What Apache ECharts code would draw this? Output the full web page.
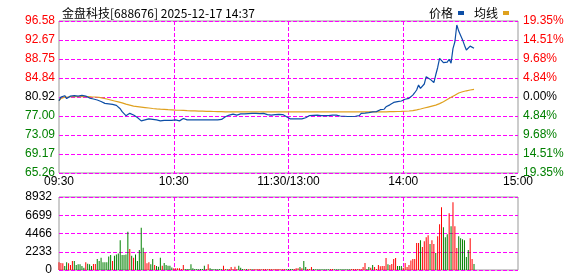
<!DOCTYPE html>
<html>
<head>
<meta charset="utf-8">
<script src="https://cdn.jsdelivr.net/npm/echarts@6/dist/echarts.min.js"></script>
<style>html,body{margin:0;padding:0;background:#fff;}#c{width:578px;height:276px;}</style>
</head>
<body>
<div id="c"></div>
<script>
// ---- data ----
const titleText = '金盘科技[688676] 2025-12-17 14:37';
const tickIdx = [0, 60, 120, 180, 240];
const tickText = ['09:30', '10:30', '11:30/13:00', '14:00', '15:00'];
const priceLabels = ['65.26', '69.17', '73.09', '77.00', '80.92', '84.84', '88.75', '92.67', '96.58'];
const pctLabels = ['19.35%', '14.51%', '9.68%', '4.84%', '0.00%', '4.84%', '9.68%', '14.51%', '19.35%'];
const volLabels = ['0', '2233', '4466', '6699', '8932'];
const priceMin = 65.26, priceMax = 96.58;
const volMax = 8932, volStep = 2233;

const price = [
80.16,80.90,81.19,81.19,80.60,80.90,81.10,81.33,81.20,80.98,
81.10,81.20,81.25,81.30,81.10,80.90,80.70,80.50,80.50,80.40,
80.30,80.20,80.00,79.80,79.60,79.60,79.50,79.50,79.40,79.40,
79.20,78.90,78.50,77.90,77.50,77.07,77.30,77.55,77.30,77.20,
77.00,76.70,76.40,76.00,75.80,76.20,76.40,76.40,76.30,76.30,
76.30,76.20,76.10,76.00,76.00,76.10,76.00,76.10,76.10,76.10,
76.10,76.20,76.10,76.00,76.20,76.50,76.40,76.20,76.20,76.20,
76.20,76.20,76.15,76.20,76.20,76.20,76.15,76.20,76.20,76.20,
76.20,76.20,76.20,76.20,76.25,76.30,76.60,76.86,77.00,77.20,
77.30,77.40,77.35,77.20,77.30,77.45,77.55,77.45,77.40,77.50,
77.55,77.55,77.60,77.55,77.55,77.50,77.55,77.55,77.40,77.30,
77.20,77.20,77.25,77.30,77.30,77.35,77.40,77.30,77.10,76.86,
76.60,76.40,76.40,76.40,76.35,76.40,76.40,76.40,76.45,76.65,
76.90,77.10,77.20,77.15,77.15,77.20,77.15,77.10,77.07,77.10,
77.10,77.10,77.15,77.20,77.20,77.20,77.10,77.00,77.00,76.95,
76.90,76.90,76.86,76.90,76.90,76.95,77.00,77.10,77.55,77.60,
77.60,77.65,77.70,77.80,77.85,77.90,77.90,78.10,78.30,78.60,
78.40,78.90,79.10,79.30,79.50,79.80,79.95,79.95,80.00,80.10,
80.30,80.45,80.50,80.65,80.90,81.30,81.80,82.36,83.40,82.70,
83.10,83.60,85.10,84.70,84.60,84.60,83.90,85.50,87.00,88.90,
88.50,88.00,87.99,88.10,88.70,87.90,90.90,92.30,95.76,94.50,
93.60,92.70,91.60,90.60,91.00,91.40,91.30,90.95
];

const avgPrice = [
80.16,80.60,80.80,80.90,80.90,80.92,80.95,80.98,81.00,81.00,
81.00,81.00,81.00,81.00,81.00,81.00,80.98,80.95,80.95,80.92,
80.90,80.85,80.80,80.70,80.60,80.50,80.40,80.30,80.20,80.10,
80.00,79.90,79.80,79.70,79.60,79.45,79.35,79.25,79.15,79.05,
79.00,78.95,78.90,78.85,78.80,78.75,78.70,78.65,78.60,78.55,
78.50,78.48,78.45,78.42,78.40,78.38,78.35,78.32,78.30,78.28,
78.25,78.23,78.21,78.19,78.17,78.15,78.13,78.11,78.10,78.08,
78.07,78.05,78.04,78.02,78.01,78.00,77.98,77.97,77.96,77.95,
77.94,77.93,77.92,77.91,77.90,77.89,77.88,77.87,77.86,77.86,
77.86,77.86,77.86,77.85,77.85,77.85,77.85,77.85,77.85,77.85,
77.85,77.85,77.85,77.85,77.85,77.85,77.85,77.85,77.85,77.85,
77.85,77.85,77.85,77.85,77.85,77.85,77.85,77.85,77.85,77.85,
77.85,77.85,77.85,77.85,77.85,77.85,77.85,77.85,77.85,77.85,
77.85,77.85,77.85,77.85,77.85,77.85,77.85,77.85,77.85,77.85,
77.85,77.85,77.85,77.85,77.85,77.85,77.85,77.85,77.85,77.85,
77.85,77.85,77.85,77.85,77.85,77.85,77.85,77.85,77.85,77.85,
77.85,77.85,77.85,77.85,77.85,77.85,77.85,77.85,77.85,77.85,
77.86,77.87,77.88,77.89,77.90,77.91,77.92,77.93,77.94,77.95,
77.96,77.98,78.00,78.03,78.06,78.10,78.18,78.26,78.35,78.45,
78.55,78.65,78.75,78.85,78.95,79.05,79.15,79.25,79.40,79.55,
79.75,79.95,80.15,80.40,80.65,80.85,81.05,81.30,81.50,81.75,
81.90,82.00,82.10,82.20,82.28,82.36,82.43,82.50
];

const volume = [
934,853,812,487,934,812,609,1096,1096,609,
690,690,500,284,934,771,690,487,731,731,
1340,1096,1502,934,934,934,1665,1827,1096,1746,
1908,2030,3654,1827,1827,1900,4669,2558,1746,1502,
1908,1096,2436,5156,2720,2111,812,934,690,1340,
609,487,406,1502,528,853,609,528,528,300,
203,203,203,203,122,609,122,122,122,690,
203,122,122,100,122,122,528,122,690,203,
122,100,122,100,122,100,528,122,100,122,
365,122,406,122,528,284,122,100,122,100,
122,100,122,100,122,122,100,122,122,100,
122,122,100,122,122,122,100,122,122,100,
122,122,122,122,203,203,365,203,1096,365,
122,122,365,122,100,100,100,100,100,100,
100,100,122,122,100,100,100,100,100,100,
100,100,100,122,122,122,122,122,122,365,
853,122,365,284,609,365,122,609,447,487,
487,1462,690,609,731,1340,1462,487,487,487,
284,853,365,609,1177,1340,1340,3289,3289,3654,
2801,3532,4019,4263,3167,3654,3167,2071,4141,5603,
7673,5237,4019,4385,6943,5359,8282,5359,2680,4141,
3898,3776,3654,1583,2436,3898,1340,731
];
// 1 = up (red), 0 = down (green)
const volUp = [
1,1,1,0,0,1,1,1,0,0,
0,0,0,0,1,0,0,0,1,1,
0,0,0,0,0,0,0,0,1,0,
0,0,0,0,0,0,0,1,0,1,
0,0,0,0,0,1,1,1,0,0,
1,0,0,0,1,0,0,0,0,0,
1,1,1,1,1,1,0,0,0,0,
0,0,0,0,0,0,0,1,1,0,
0,0,0,0,0,0,1,1,0,1,
1,1,1,1,0,0,0,1,0,1,
1,0,1,1,1,1,1,1,1,1,
1,1,1,1,1,1,1,1,1,0,
0,0,0,1,1,1,0,1,0,0,
1,1,1,0,0,0,0,0,0,0,
0,0,1,1,0,0,0,0,0,0,
0,0,0,1,1,1,1,1,1,1,
1,0,0,1,0,1,1,1,1,1,
1,1,0,1,1,1,1,0,0,0,
1,1,1,1,1,1,1,1,1,0,
1,1,1,1,0,1,1,0,1,1,
1,0,0,0,1,0,1,1,1,0,
0,0,0,0,0,1,1,0
];

// ---- categories (trading minutes) ----
const times = [];
function pad(n){return (n<10?'0':'')+n;}
for (let m = 9*60+30; m <= 11*60+30; m++) times.push(pad(Math.floor(m/60))+':'+pad(m%60));
for (let m = 13*60+1; m <= 15*60; m++) times.push(pad(Math.floor(m/60))+':'+pad(m%60));

const RED = '#ff0000', GREEN = '#008000', BLACK = '#000000';
const FONT = 'Liberation Sans';
const SPLIT = '#ff00ff';
function gridLine() { return {show: true, lineStyle: {type: 'dashed', color: SPLIT, width: 1}}; }
const inner = (i) => i !== 0 && i !== 240 && tickIdx.indexOf(i) >= 0;
function xSplit() { const s = gridLine(); s.interval = (i) => inner(i); return s; }

const chart = echarts.init(document.getElementById('c'));
chart.setOption({
  animation: false,
  title: {
    text: titleText, left: 57, top: 2,
    textStyle: {fontSize: 12, fontWeight: 'normal', color: '#000', fontFamily: 'Noto Sans CJK SC'}
  },
  legend: {
    data: ['价格', '均线'], right: 64, top: 2, align: 'right', icon: 'rect',
    itemWidth: 6, itemHeight: 4, itemGap: 10,
    textStyle: {fontSize: 12, color: '#000', fontFamily: 'Noto Sans CJK SC'}
  },
  grid: [
    {left: 59, right: 60, top: 21, height: 152, show: true, borderColor: '#999', borderWidth: 1},
    {left: 59, right: 60, top: 197, height: 73, show: true, borderColor: '#999', borderWidth: 1}
  ],
  xAxis: [
    {type: 'category', gridIndex: 0, data: times, boundaryGap: false,
     axisLabel: {
       interval: (i) => tickIdx.indexOf(i) >= 0,
       formatter: (v, i) => tickText[tickIdx.indexOf(i)],
       fontSize: 12, color: '#000', fontFamily: FONT, margin: 3
     },
     axisLine: {show: false}, axisTick: {show: false},
     splitLine: xSplit()},
    {type: 'category', gridIndex: 1, data: times, boundaryGap: false,
     axisLabel: {show: false}, axisLine: {show: false}, axisTick: {show: false},
     splitLine: xSplit()}
  ],
  yAxis: [
    {type: 'value', gridIndex: 0, position: 'left', min: 0, max: 8, interval: 1,
     axisLabel: {formatter: (v) => priceLabels[Math.round(v)], fontSize: 12, fontFamily: FONT, margin: 4,
       color: (v) => { const k = Math.round(v); return k > 4 ? RED : (k < 4 ? GREEN : BLACK); }},
     axisLine: {show: false}, axisTick: {show: false},
     splitLine: gridLine()},
    {type: 'value', gridIndex: 0, position: 'right', min: 0, max: 8, interval: 1,
     axisLabel: {formatter: (v) => pctLabels[Math.round(v)], fontSize: 12, fontFamily: FONT, margin: 5,
       color: (v) => { const k = Math.round(v); return k > 4 ? RED : (k < 4 ? GREEN : BLACK); }},
     axisLine: {show: false}, axisTick: {show: false},
     splitLine: {show: false}},
    {type: 'value', gridIndex: 0, position: 'left', min: priceMin, max: priceMax,
     axisLabel: {show: false}, axisLine: {show: false}, axisTick: {show: false}, splitLine: {show: false}},
    {type: 'value', gridIndex: 1, min: 0, max: volMax, interval: volStep,
     axisLabel: {fontSize: 12, color: '#000', fontFamily: FONT, margin: 7,
       formatter: (v) => volLabels[Math.round(v / volStep)]},
     axisLine: {show: false}, axisTick: {show: false},
     splitLine: gridLine()}
  ],
  series: [
    {name: '价格', type: 'line', xAxisIndex: 0, yAxisIndex: 2, data: price, showSymbol: false, symbol: 'none',
     lineStyle: {color: '#0d4ea6', width: 1.2}, itemStyle: {color: '#0d4ea6'}, z: 3},
    {name: '均线', type: 'line', xAxisIndex: 0, yAxisIndex: 2, data: avgPrice, showSymbol: false, symbol: 'none',
     lineStyle: {color: '#dfa11f', width: 1.2}, itemStyle: {color: '#dfa11f'}, z: 2},
    {name: '成交量', type: 'bar', xAxisIndex: 1, yAxisIndex: 3, barWidth: 1,
     data: volume.map((v, i) => ({value: v, itemStyle: {color: volUp[i] ? RED : GREEN}}))}
  ]
});
</script>
</body>
</html>
